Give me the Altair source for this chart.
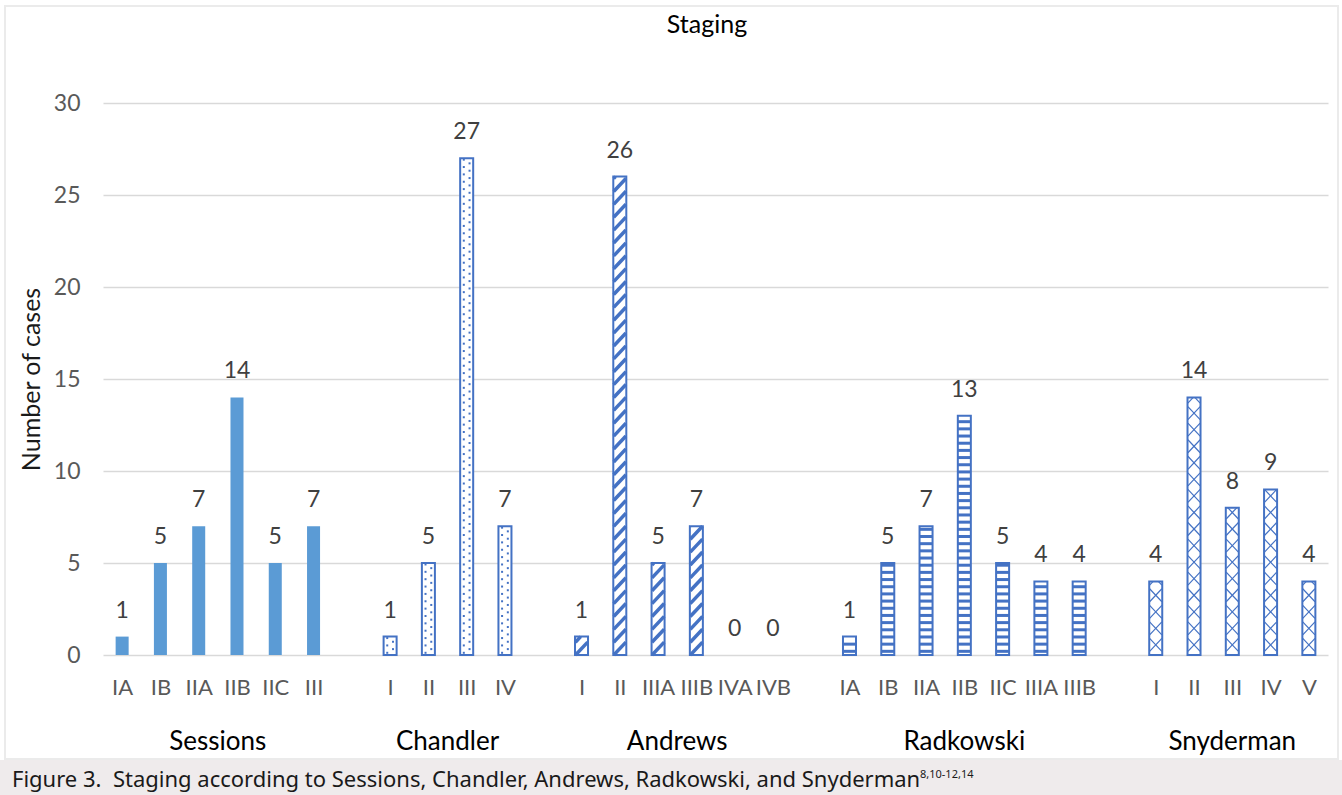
import altair as alt
import numpy as np
import pandas as pd

# Case counts per staging system
sessions_stages = ["IA", "IB", "IIA", "IIB", "IIC", "III"]
sessions_cases = [1, 5, 7, 14, 5, 7]

chandler_stages = ["I", "II", "III", "IV"]
chandler_cases = [1, 5, 27, 7]

andrews_stages = ["I", "II", "IIIA", "IIIB", "IVA", "IVB"]
andrews_cases = [1, 26, 5, 7, 0, 0]

radkowski_stages = ["IA", "IB", "IIA", "IIB", "IIC", "IIIA", "IIIB"]
radkowski_cases = [1, 5, 7, 13, 5, 4, 4]

snyderman_stages = ["I", "II", "III", "IV", "V"]
snyderman_cases = [4, 14, 8, 9, 4]

systems = ["Sessions", "Chandler", "Andrews", "Radkowski", "Snyderman"]
system_stages = [sessions_stages, chandler_stages, andrews_stages,
                 radkowski_stages, snyderman_stages]
system_cases = [sessions_cases, chandler_cases, andrews_cases,
                radkowski_cases, snyderman_cases]

caption = ("Figure 3.\u00a0\u00a0Staging according to Sessions, Chandler, "
           "Andrews, Radkowski, and Snyderman")
caption_refs = "8,10-12,14"

# ---- layout constants ----
BLUE_SOLID = "#5b9bd5"
BLUE_LINE = "#4472c4"
FONT = "Lato"
W, H = 1225, 552
HALF = 0.17  # half bar width in slot units

# One slot per stage, one empty slot between systems
rows = []
slot = 0
centers = []
for name, stg, cases in zip(systems, system_stages, system_cases):
    first = slot
    for s, c in zip(stg, cases):
        rows.append({"system": name, "stage": s, "cases": c, "pos": slot})
        slot += 1
    centers.append({"system": name, "center": (first + slot - 1) / 2})
    slot += 1
n_slots = slot - 1
df = pd.DataFrame(rows)
df["x0"] = df["pos"] - HALF
df["x1"] = df["pos"] + HALF
df["base"] = 0.0
centers_df = pd.DataFrame(centers)

slot_labels = [""] * n_slots
for r in rows:
    slot_labels[r["pos"]] = r["stage"]
label_expr = "[" + ",".join("'%s'" % s for s in slot_labels) + "][datum.value]"

x_scale = alt.Scale(domain=[-0.5, n_slots - 0.5], nice=False, zero=False)
y_scale = alt.Scale(domain=[0, 30], nice=False)


# ---- fill patterns built from each bar's extent ----
def clipped_diag(pos, v, y0, d, rising):
    xl, xr = pos - HALF + 0.01, pos + HALF - 0.01
    if rising:
        lo, hi = max(0.0, -y0 / d), min(1.0, (v - y0) / d)
    else:
        lo, hi = max(0.0, 1 - (v - y0) / d), min(1.0, 1 + y0 / d)
    if hi <= lo:
        return None

    def pt(t):
        x = xl + (xr - xl) * t
        y = y0 + d * (t if rising else 1 - t)
        return x, y

    (ax, ay), (bx, by) = pt(lo), pt(hi)
    return {"xa": ax, "xb": bx, "ya": ay, "yb": by}


dots, diag, hstripe, cross = [], [], [], []
for r in rows:
    p, v = r["pos"], r["cases"]
    if r["system"] == "Chandler":
        for k, y in enumerate(np.arange(0.12, v - 0.05, 0.2)):
            dots.append({"x": p + (-0.075 if k % 2 == 0 else 0.075), "y": y})
    elif r["system"] == "Andrews":
        D = 0.707
        for y0 in np.arange(-D, v, 0.7):
            seg = clipped_diag(p, v, y0, D, True)
            if seg:
                diag.append(seg)
    elif r["system"] == "Radkowski":
        for y in np.arange(0.2, v - 0.1, 0.39):
            hstripe.append({"xa": p - HALF, "xb": p + HALF, "y": y})
    elif r["system"] == "Snyderman":
        D = 0.707
        for y0 in np.arange(-D, v, 0.9):
            for rising in (True, False):
                seg = clipped_diag(p, v, y0, D, rising)
                if seg:
                    cross.append(seg)

dots_df = pd.DataFrame(dots)
diag_df = pd.DataFrame(diag)
hstripe_df = pd.DataFrame(hstripe)
cross_df = pd.DataFrame(cross)

one = pd.DataFrame({"k": [0]})

# ---- frame and caption band ----
frame = alt.Chart(one).mark_rect(fillOpacity=0, stroke="#ebebeb", strokeWidth=2).encode(
    x=alt.value(-98), x2=alt.value(1235), y=alt.value(-97), y2=alt.value(656)
)
band = alt.Chart(one).mark_rect(fill="#efebec").encode(
    x=alt.value(-103), x2=alt.value(1239), y=alt.value(657), y2=alt.value(692)
)

# ---- bars ----
bar_base = alt.Chart(df).encode(
    x=alt.X("x0:Q", scale=x_scale,
            axis=alt.Axis(values=df["pos"].tolist(), labelExpr=label_expr,
                          title=None, domain=False, ticks=False, grid=False,
                          labelOverlap=False, labelFlush=False,
                          labelFont=FONT, labelFontSize=22,
                          labelColor="#595959", labelPadding=22)),
    x2="x1:Q",
    y=alt.Y("cases:Q", scale=y_scale,
            axis=alt.Axis(values=[0, 5, 10, 15, 20, 25, 30],
                          title="Number of cases", titleFont=FONT,
                          titleFontSize=25, titleFontWeight="normal",
                          titleColor="#1a1a1a", titlePadding=9,
                          domain=False, ticks=False, grid=True,
                          gridColor="#d9d9d9", gridWidth=1.6,
                          labelFont=FONT, labelFontSize=23,
                          labelColor="#595959", labelPadding=23)),
    y2="base:Q",
)
solid_bars = bar_base.transform_filter(
    alt.datum.system == "Sessions").mark_rect(fill=BLUE_SOLID)
white_bars = bar_base.transform_filter(
    (alt.datum.system != "Sessions") & (alt.datum.cases > 0)
).mark_rect(fill="white")
outline_bars = bar_base.transform_filter(
    (alt.datum.system != "Sessions") & (alt.datum.cases > 0)
).mark_rect(fill="white", fillOpacity=0, stroke=BLUE_LINE, strokeWidth=2)

dot_layer = alt.Chart(dots_df).mark_square(size=4, color=BLUE_LINE, opacity=1).encode(
    x=alt.X("x:Q", scale=x_scale), y=alt.Y("y:Q", scale=y_scale))
diag_layer = alt.Chart(diag_df).mark_rule(color=BLUE_LINE, strokeWidth=3.5).encode(
    x=alt.X("xa:Q", scale=x_scale), x2="xb:Q",
    y=alt.Y("ya:Q", scale=y_scale), y2="yb:Q")
hstripe_layer = alt.Chart(hstripe_df).mark_rule(color=BLUE_LINE, strokeWidth=3).encode(
    x=alt.X("xa:Q", scale=x_scale), x2="xb:Q",
    y=alt.Y("y:Q", scale=y_scale))
cross_layer = alt.Chart(cross_df).mark_rule(color=BLUE_LINE, strokeWidth=1.2).encode(
    x=alt.X("xa:Q", scale=x_scale), x2="xb:Q",
    y=alt.Y("ya:Q", scale=y_scale), y2="yb:Q")

# ---- text ----
value_labels = alt.Chart(df).mark_text(
    font=FONT, fontSize=23, color="#404040", baseline="alphabetic", dy=-19
).encode(x=alt.X("pos:Q", scale=x_scale), y=alt.Y("cases:Q", scale=y_scale),
         text="cases:Q")

system_labels = alt.Chart(centers_df).mark_text(
    font=FONT, fontSize=26, color="#000000", baseline="middle"
).encode(x=alt.X("center:Q", scale=x_scale), y=alt.value(639), text="system:N")

title = alt.Chart(pd.DataFrame({"t": ["Staging"]})).mark_text(
    font=FONT, fontSize=25, color="#000000", baseline="middle"
).encode(x=alt.value(604), y=alt.value(-78), text="t:N")

caption_text = alt.Chart(pd.DataFrame({"t": [caption]})).mark_text(
    font="Noto Sans", fontSize=22, color="#1a1a1a", align="left",
    baseline="alphabetic"
).encode(x=alt.value(-91), y=alt.value(684), text="t:N")
caption_sup = alt.Chart(pd.DataFrame({"t": [caption_refs]})).mark_text(
    font="Noto Sans", fontSize=11, color="#1a1a1a", align="left",
    baseline="alphabetic"
).encode(x=alt.value(817), y=alt.value(675), text="t:N")

chart = alt.layer(
    frame, band, solid_bars, white_bars, dot_layer, diag_layer, hstripe_layer,
    cross_layer, outline_bars, value_labels, system_labels, title,
    caption_text, caption_sup
).properties(
    width=W, height=H,
    autosize=alt.AutoSizeParams(type="none"),
    padding={"left": 103, "top": 103, "right": 14, "bottom": 140},
    background="white",
).configure_view(stroke=None)

chart.save("out.html", embed_options={"renderer": "svg", "actions": False})
